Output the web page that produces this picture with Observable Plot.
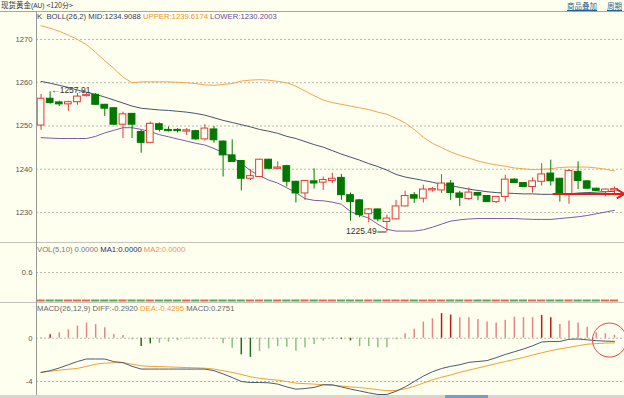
<!DOCTYPE html>
<html><head><meta charset="utf-8">
<script src="https://cdn.jsdelivr.net/npm/d3@7"></script>
<script src="https://cdn.jsdelivr.net/npm/@observablehq/plot@0.6"></script>
<style>
html,body{margin:0;padding:0;background:#fffff0;}
#wrap{position:relative;width:624px;height:398px;overflow:hidden;background:#fffff0;font-family:"Liberation Sans",Arial,sans-serif;}
.abs{position:absolute;white-space:nowrap;line-height:9px;}
.pan{position:absolute;left:0;}
svg{display:block}
</style></head><body><div id="wrap"></div>
<script>
// ---- data (120-minute gold candles) ----
const opens  = [1250.1,1256.3,1255.45,1255.0,1255.5,1256.9,1257.2,1254.9,1254.1,1250.3,1252.8,1248.6,1246.1,1250.4,1249.1,1249.1,1248.7,1248.8,1246.9,1249.2,1246.4,1243.2,1241.9,1237.8,1238.2,1242.2,1240.1,1240.7,1237.1,1234.4,1237.2,1236.9,1237.3,1238.0,1234.0,1232.8,1229.6,1230.7,1227.8,1228.4,1231.4,1234.0,1233.2,1235.1,1235.1,1236.7,1234.4,1233.1,1234.5,1233.8,1232.4,1233.6,1237.6,1236.8,1235.9,1237.1,1239.0,1237.8,1234.0,1239.4,1237.2,1235.5,1234.7,1235.1];
const highs  = [1257.3,1257.91,1255.75,1255.75,1257.5,1257.6,1257.5,1255.0,1254.2,1253.2,1252.9,1249.0,1250.9,1250.7,1249.75,1249.4,1249.4,1249.0,1250.3,1249.9,1246.5,1246.8,1242.0,1239.9,1242.3,1242.3,1241.7,1240.9,1237.2,1237.4,1240.1,1238.2,1239.1,1238.8,1234.5,1233.0,1230.9,1230.8,1229.4,1232.8,1234.9,1234.6,1236.3,1235.8,1238.8,1237.4,1234.9,1235.7,1234.7,1233.9,1233.7,1238.6,1237.8,1236.9,1238.0,1241.3,1242.1,1237.9,1239.9,1241.7,1237.3,1235.6,1235.4,1235.9];
const lows   = [1249.0,1255.0,1254.5,1253.4,1254.8,1256.7,1254.8,1252.2,1250.2,1247.1,1247.1,1243.7,1245.9,1248.6,1248.6,1248.4,1247.8,1246.7,1246.5,1246.0,1238.2,1241.6,1235.0,1237.4,1238.1,1240.0,1240.0,1235.9,1232.2,1232.8,1235.4,1235.1,1236.7,1232.8,1228.0,1228.8,1227.6,1227.8,1225.49,1228.3,1231.3,1232.1,1232.2,1234.7,1234.4,1232.8,1231.4,1232.8,1232.7,1232.3,1232.1,1232.4,1236.7,1235.8,1234.5,1236.1,1236.1,1232.4,1231.9,1235.3,1235.3,1234.9,1233.6,1234.4];
const closes = [1256.3,1255.3,1255.0,1255.5,1256.8,1257.2,1254.9,1254.0,1250.3,1252.7,1250.3,1246.1,1250.5,1249.1,1248.8,1248.8,1249.0,1246.9,1249.4,1246.7,1243.2,1241.7,1237.8,1238.4,1242.2,1240.1,1240.4,1237.1,1234.4,1237.3,1236.7,1237.5,1237.8,1234.0,1232.4,1229.4,1230.7,1228.4,1228.6,1231.4,1233.8,1233.2,1235.3,1235.4,1236.7,1234.5,1233.4,1234.6,1233.9,1232.4,1233.6,1237.6,1236.8,1235.9,1237.2,1238.8,1237.2,1234.1,1239.6,1237.3,1235.5,1235.0,1235.3,1235.4];
const bollUpper = [1273.2,1272.6,1271.9,1271.0,1270.0,1268.8,1267.0,1265.1,1263.3,1261.3,1260.0,1260.2,1260.2,1260.2,1260.2,1260.1,1260.0,1259.8,1259.5,1259.4,1259.6,1259.8,1260.4,1260.6,1260.7,1260.6,1260.3,1260.0,1259.2,1258.1,1257.0,1256.0,1255.4,1255.0,1254.6,1254.2,1253.8,1253.2,1252.7,1251.8,1250.7,1249.2,1247.4,1246.0,1245.0,1244.0,1243.2,1242.6,1241.9,1241.4,1241.0,1240.7,1240.3,1240.1,1239.9,1240.0,1240.1,1240.4,1240.5,1240.5,1240.5,1240.3,1240.0,1239.6];
const bollMid = [1260.3,1259.9,1259.4,1258.9,1258.3,1257.8,1257.3,1256.7,1256.0,1255.3,1254.6,1254.1,1253.9,1253.7,1253.6,1253.4,1253.2,1252.9,1252.5,1251.9,1251.3,1250.8,1250.3,1249.8,1249.2,1248.8,1248.3,1247.6,1247.1,1246.4,1245.7,1245.1,1244.3,1243.5,1242.8,1242.1,1241.3,1240.6,1239.8,1238.8,1238.2,1237.8,1237.4,1237.0,1236.5,1236.2,1235.8,1235.4,1235.1,1234.8,1234.6,1234.5,1234.4,1234.3,1234.3,1234.2,1234.2,1234.2,1234.3,1234.5,1234.6,1234.7,1234.8,1234.9];
const bollLower = [1247.3,1247.2,1247.1,1247.1,1247.1,1247.1,1247.6,1248.4,1249.0,1249.6,1249.6,1249.2,1248.7,1248.0,1247.5,1247.0,1246.5,1246.0,1245.6,1244.8,1243.8,1242.8,1241.3,1239.7,1238.5,1237.5,1236.8,1235.7,1234.6,1233.2,1232.8,1232.7,1232.4,1231.9,1230.2,1229.4,1228.7,1227.3,1226.1,1225.7,1225.7,1225.7,1226.0,1226.6,1227.3,1228.0,1228.3,1228.5,1228.6,1228.6,1228.6,1228.6,1228.6,1228.5,1228.4,1228.4,1228.4,1228.6,1228.8,1229.0,1229.3,1229.7,1230.1,1230.5];
const volumes = new Array(64).fill(0);
const macdHist = [0.05,0.32,0.50,0.78,1.12,1.40,1.25,0.97,0.34,0.25,-0.15,-0.77,-0.52,-0.47,-0.37,-0.21,-0.09,-0.05,-0.03,-0.05,-0.52,-0.93,-1.54,-1.77,-1.24,-0.99,-0.77,-0.84,-1.21,-0.89,-0.59,-0.28,-0.05,-0.10,-0.25,-0.77,-0.77,-0.89,-0.89,-0.15,0.41,0.84,1.49,1.80,2.27,2.14,1.90,1.90,1.74,1.49,1.40,1.65,1.95,1.90,1.90,2.11,1.90,1.27,1.58,1.40,1.02,0.50,0.41,0.28];
const macdDark = [0,1,0,0,0,0,0,0,0,0,0,1,1,0,0,0,0,0,0,0,0,0,1,1,0,0,0,0,0,0,0,0,1,1,1,0,0,0,0,0,0,0,0,0,1,1,0,0,0,0,0,0,0,0,0,1,1,0,0,0,0,0,0,0];
const macdDiff = [-3.16,-3.0,-2.75,-2.45,-2.15,-1.92,-1.92,-1.92,-2.17,-2.25,-2.6,-2.85,-2.85,-2.85,-2.85,-2.85,-2.85,-2.85,-2.85,-3.0,-3.3,-3.63,-4.0,-4.09,-4.09,-4.12,-4.24,-4.5,-4.71,-4.65,-4.55,-4.3,-4.3,-4.5,-4.7,-4.87,-5.05,-5.2,-5.2,-4.9,-4.5,-4.0,-3.5,-3.1,-2.8,-2.6,-2.45,-2.23,-2.15,-2.07,-1.8,-1.5,-1.25,-1.0,-0.7,-0.35,-0.3,-0.3,-0.1,-0.07,-0.15,-0.22,-0.27,-0.29];
const macdDea = [-3.16,-3.05,-2.95,-2.87,-2.79,-2.6,-2.4,-2.3,-2.27,-2.26,-2.4,-2.55,-2.6,-2.62,-2.65,-2.68,-2.71,-2.74,-2.77,-2.85,-3.0,-3.16,-3.35,-3.56,-3.7,-3.8,-3.87,-4.0,-4.15,-4.2,-4.24,-4.3,-4.36,-4.42,-4.5,-4.56,-4.65,-4.75,-4.85,-4.82,-4.68,-4.45,-4.15,-3.85,-3.6,-3.4,-3.15,-2.95,-2.75,-2.55,-2.35,-2.15,-1.97,-1.78,-1.55,-1.35,-1.15,-0.98,-0.85,-0.7,-0.55,-0.5,-0.45,-0.43];
const priceTicks = [1230,1240,1250,1260,1270];
const volTicks = [0.6];
const macdTicks = [0,-4];
const highLabel = {i:1, v:1257.91, text:"←1257.91"};
const lowLabel = {i:38, v:1225.49, text:"1225.49"};
const lastMarker = {i1:56.3, i2:64.1, v:1234.3};
const circleMark = {i:62.45, v:-0.17};

// ---- styling ----
const BG="#fffff0", RED="#dc3b3b", GREEN="#007800";
const FONT='"Liberation Sans",Arial,sans-serif';
const xDomain=[-0.5,64.1];
const idx = d3.range(opens.length);
const candles = idx.map(i=>({i,o:opens[i],h:highs[i],l:lows[i],c:closes[i],up:closes[i]>=opens[i]}));
const gridStyle = {stroke:"#b9b9b0",strokeOpacity:1,strokeDasharray:"2,2"};
const axStyle = {tickSize:0,tickPadding:4,fill:"#555",fontSize:7.7,label:null,tickFormat:d=>String(d)};
const common = {width:624,marginLeft:36,marginRight:0,x:{domain:xDomain,axis:null},color:{type:"identity"},
  style:{background:"transparent",fontFamily:FONT,fontSize:"7.7px",overflow:"visible"}};

const wrap = document.getElementById("wrap");
function place(node, top){ const d=document.createElement("div"); d.className="pan"; d.style.top=top+"px"; d.appendChild(node); wrap.appendChild(d); }
function txt(html, left, top, extra){ const d=document.createElement("div"); d.className="abs"; d.style.left=left+"px"; d.style.top=top+"px"; d.innerHTML=html; if(extra) Object.assign(d.style, extra); wrap.appendChild(d); return d; }
function box(l,t,w,h,c){ const d=document.createElement("div"); Object.assign(d.style,{position:"absolute",left:l+"px",top:t+"px",width:w+"px",height:h+"px",background:c}); wrap.appendChild(d); }

// price panel
const price = Plot.plot({...common, height:231, marginTop:0, marginBottom:0,
  y:{domain:[1223.06,1276.47],label:null},
  marks:[
    Plot.gridY(priceTicks, gridStyle),
    Plot.axisY(priceTicks, axStyle),
    Plot.line(idx,{x:i=>i,y:i=>bollUpper[i],stroke:"#f2a54c",strokeWidth:1}),
    Plot.line(idx,{x:i=>i,y:i=>bollMid[i],stroke:"#46546c",strokeWidth:1}),
    Plot.line(idx,{x:i=>i,y:i=>bollLower[i],stroke:"#7a5ca6",strokeWidth:1}),
    Plot.ruleX(candles,{x:"i",y1:"l",y2:"h",stroke:d=>d.up?RED:GREEN,strokeWidth:1}),
    Plot.rect(candles,{x1:d=>d.i-0.37,x2:d=>d.i+0.37,y1:"o",y2:"c",fill:d=>d.up?BG:GREEN,stroke:d=>d.up?RED:GREEN,strokeWidth:1}),
    Plot.text([highLabel],{x:"i",y:"v",text:"text",textAnchor:"start",dx:1,dy:-1.5,fill:"#333",fontSize:8.5}),
    Plot.ruleY([lowLabel],{y:"v",x1:d=>d.i-1.0,x2:d=>d.i,stroke:"#333",strokeWidth:1}),
    Plot.text([lowLabel],{x:d=>d.i-1.0,y:"v",text:"text",textAnchor:"end",dx:-1,dy:-1,fill:"#333",fontSize:8.5}),
    Plot.arrow([lastMarker],{x1:"i1",x2:"i2",y1:"v",y2:"v",stroke:"#e41e1e",strokeWidth:2,headLength:6})
  ]});
place(price, 11);

// volume panel
const vol = Plot.plot({...common, height:60, marginTop:2, marginBottom:2,
  y:{domain:[0,1.2],label:null},
  marks:[
    Plot.gridY(volTicks, gridStyle),
    Plot.axisY(volTicks, {...axStyle, tickFormat:d=>d.toFixed(1)}),
    Plot.ruleY(idx,{y:i=>volumes[i],x1:i=>i-0.45,x2:i=>i+0.45,stroke:i=>candles[i].up?"#e06a4a":"#5aa85a",strokeWidth:2})
  ]});
place(vol, 242);

// MACD panel
const macdData = idx.map(i=>({i,v:macdHist[i],dark:macdDark[i]}));
const macd = Plot.plot({...common, height:94, marginTop:0, marginBottom:0,
  y:{domain:[-5.385,3.30],label:null},
  marks:[
    Plot.gridY(macdTicks, gridStyle),
    Plot.axisY(macdTicks, axStyle),
    Plot.ruleX(macdData,{x:"i",y1:0,y2:"v",strokeWidth:1.5,
      stroke:d=>d.v>=0?(d.dark?"#c01818":"#e58585"):(d.dark?"#1e6e1e":"#86c486")}),
    Plot.line(idx,{x:i=>i,y:i=>macdDea[i],stroke:"#f0a030",strokeWidth:1}),
    Plot.line(idx,{x:i=>i,y:i=>macdDiff[i],stroke:"#4a5a72",strokeWidth:1}),
    Plot.dot([circleMark],{x:"i",y:"v",r:17,stroke:"#e04848",fill:"none",strokeWidth:1})
  ]});
place(macd, 302);

// frame lines
box(0,11,624,1,"#a8a8a0");
box(0,242,624,1,"#c4c4bc");
box(0,302,624,1,"#c4c4bc");
box(36,11,1,385,"#9a9a94");
box(0,395,624,3,"#d6d6d0");
box(445,395,43,3,"#6f9fd6");

// header / legends
const S = {fontSize:"7.7px"};
txt('<span style="font-family:\'Noto Sans CJK SC\';font-size:7.5px">现货黄金</span><span style="font-size:6.5px">(AU)</span> <span style="font-family:\'Noto Sans CJK SC\';font-size:7px">&lt;120分&gt;</span>', 1, 0, {color:"#333",fontSize:"7.5px"});
txt('<span style="font-family:\'Noto Sans CJK SC\';text-decoration:underline;color:#1f5f8f">商品叠加</span>', 567, 1, {fontSize:"7.5px"});
txt('<span style="font-family:\'Noto Sans CJK SC\';text-decoration:underline;color:#1f5f8f">周期</span>', 607, 1, {fontSize:"7.5px"});
txt('<span style="color:#3a3a5a">K&nbsp; BOLL(26,2) MID:1234.9088 </span><span style="color:#e8962c">UPPER:1239.6174 </span><span style="color:#6a4a9a">LOWER:1230.2003</span>', 37, 12, S);
txt('<span style="color:#777">VOL(5,10) 0.0000 </span><span style="color:#2a2a5a">MA1:0.0000 </span><span style="color:#f09050">MA2:0.0000</span>', 37, 245, S);
txt('<span style="color:#666">MACD(26,12,9) DIFF:-0.2920 </span><span style="color:#f09a30">DEA:-0.4295 </span><span style="color:#666">MACD:0.2751</span>', 37, 304, S);
</script></body></html>
